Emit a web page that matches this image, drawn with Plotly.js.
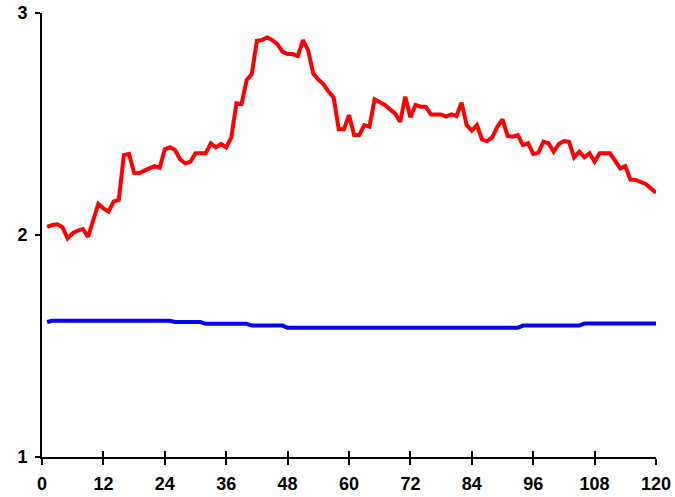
<!DOCTYPE html>
<html>
<head>
<meta charset="utf-8">
<script src="https://cdn.plot.ly/plotly-3.0.1.min.js"></script>
<style>html,body{margin:0;padding:0;background:#fff;}#chart{width:675px;height:497px;}</style>
</head>
<body>
<div id="chart"></div>
<script>
var months = [];
for (var m = 1; m <= 120; m++) months.push(m);

var redSeries = [
  2.037, 2.045, 2.048, 2.035, 1.985, 2.008, 2.020, 2.027, 1.992, 2.060,
  2.140, 2.120, 2.105, 2.150, 2.158, 2.360, 2.365, 2.280, 2.278, 2.290,
  2.300, 2.310, 2.303, 2.386, 2.395, 2.383, 2.340, 2.323, 2.330, 2.368,
  2.368, 2.368, 2.413, 2.395, 2.410, 2.395, 2.440, 2.593, 2.590, 2.698,
  2.725, 2.875, 2.878, 2.890, 2.878, 2.860, 2.826, 2.815, 2.815, 2.806,
  2.878, 2.833, 2.728, 2.700, 2.680, 2.646, 2.620, 2.476, 2.476, 2.540,
  2.450, 2.450, 2.495, 2.488, 2.611, 2.600, 2.586, 2.566, 2.548, 2.510,
  2.623, 2.530, 2.586, 2.578, 2.578, 2.543, 2.543, 2.543, 2.533, 2.543,
  2.536, 2.596, 2.495, 2.470, 2.495, 2.430, 2.423, 2.440, 2.488, 2.521,
  2.446, 2.443, 2.450, 2.405, 2.413, 2.365, 2.370, 2.420, 2.413, 2.375,
  2.410, 2.423, 2.420, 2.350, 2.375, 2.350, 2.368, 2.330, 2.368, 2.368,
  2.368, 2.335, 2.300, 2.310, 2.250, 2.248, 2.240, 2.230, 2.210, 2.190
];

var blueSeries = [
  1.608, 1.614, 1.614, 1.614, 1.614, 1.614, 1.614, 1.614, 1.614, 1.614,
  1.614, 1.614, 1.614, 1.614, 1.614, 1.614, 1.614, 1.614, 1.614, 1.614,
  1.614, 1.614, 1.614, 1.614, 1.614, 1.608, 1.608, 1.608, 1.608, 1.608,
  1.608, 1.600, 1.600, 1.600, 1.600, 1.600, 1.600, 1.600, 1.600, 1.600,
  1.592, 1.592, 1.592, 1.592, 1.592, 1.592, 1.592, 1.582, 1.582, 1.582,
  1.582, 1.582, 1.582, 1.582, 1.582, 1.582, 1.582, 1.582, 1.582, 1.582,
  1.582, 1.582, 1.582, 1.582, 1.582, 1.582, 1.582, 1.582, 1.582, 1.582,
  1.582, 1.582, 1.582, 1.582, 1.582, 1.582, 1.582, 1.582, 1.582, 1.582,
  1.582, 1.582, 1.582, 1.582, 1.582, 1.582, 1.582, 1.582, 1.582, 1.582,
  1.582, 1.582, 1.582, 1.592, 1.592, 1.592, 1.592, 1.592, 1.592, 1.592,
  1.592, 1.592, 1.592, 1.592, 1.592, 1.601, 1.601, 1.601, 1.601, 1.601,
  1.601, 1.601, 1.601, 1.601, 1.601, 1.601, 1.601, 1.601, 1.601, 1.601
];

var xTicks = [0, 12, 24, 36, 48, 60, 72, 84, 96, 108, 120];
var xTickLabels = ['0', '12', '24', '36', '48', '60', '72', '84', '96', '108', '120'];
var yTicks = [1, 2, 3];
var yTickLabels = ['1', '2', '3'];

var tickFont = {family: 'Liberation Sans, Arial, sans-serif', size: 18, color: '#000', weight: 700};

var traces = [
  {x: months, y: blueSeries, type: 'scatter', mode: 'lines', xaxis: 'x2', yaxis: 'y',
   line: {color: '#0000FF', width: 4}, hoverinfo: 'skip', showlegend: false},
  {x: months, y: redSeries, type: 'scatter', mode: 'lines', xaxis: 'x', yaxis: 'y',
   line: {color: '#FF0000', width: 4}, hoverinfo: 'skip', showlegend: false}
];

var layout = {
  width: 675, height: 497,
  margin: {l: 42, r: 19, t: 13, b: 40, pad: 0},
  paper_bgcolor: '#fff', plot_bgcolor: '#fff',
  showlegend: false,
  xaxis: {
    range: [0, 120], tickmode: 'array', tickvals: xTicks, ticktext: xTickLabels,
    ticks: 'outside', ticklen: 6, tickwidth: 2, tickcolor: '#000',
    showline: true, linewidth: 2, linecolor: '#000',
    showgrid: false, zeroline: false, tickfont: tickFont, ticklabelstandoff: 3,
    fixedrange: true
  },
  xaxis2: {
    matches: 'x', overlaying: 'x', anchor: 'y', range: [0, 120],
    tickmode: 'array', tickvals: xTicks,
    ticks: 'inside', ticklen: 6, tickwidth: 2, tickcolor: '#000',
    showticklabels: false, showline: false, showgrid: false, zeroline: false
  },
  yaxis: {
    range: [1, 3], tickmode: 'array', tickvals: yTicks, ticktext: yTickLabels,
    ticks: 'outside', ticklen: 5, tickwidth: 2, tickcolor: '#000',
    showline: true, linewidth: 2, linecolor: '#000',
    showgrid: false, zeroline: false, tickfont: tickFont, ticklabelstandoff: 4,
    fixedrange: true
  }
};

Plotly.newPlot('chart', traces, layout, {staticPlot: true, displayModeBar: false});
</script>
</body>
</html>
